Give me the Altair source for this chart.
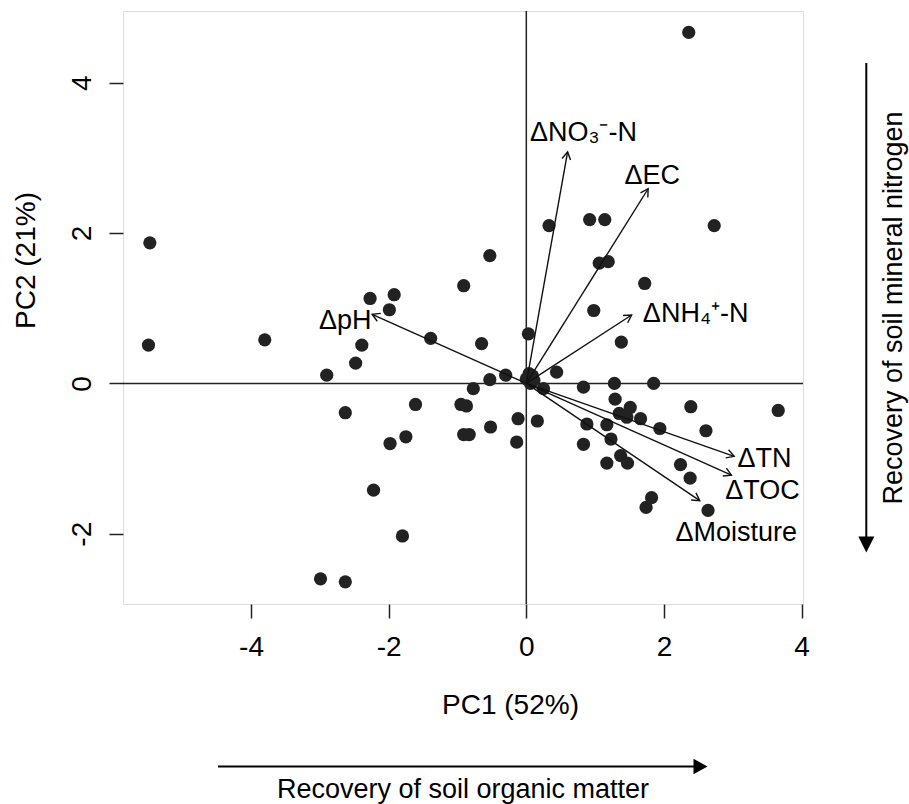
import math
import altair as alt
import pandas as pd

# ---------------- data ----------------
pc1 = [-5.47, -0.53, -0.91, -2.27, -1.92, -1.99, 2.36, 0.33, 0.92, 1.14,
       2.73, 1.06, 1.19, 1.72, 0.98, -5.49, -3.80, -2.39, -2.48, -2.90,
       -1.39, -0.65, 0.03, -0.30, -0.53, -0.77, -1.61, -0.95, -0.87, -2.63,
       -0.12, 0.16, -0.52, -0.91, -0.83, -0.14, -1.75, -1.98, -2.22, -1.80,
       -2.99, -2.63, 1.38, 0.44, 0.25, 0.83, 1.28, 1.85, 1.29, 1.51,
       1.35, 1.46, 1.66, 2.39, 3.66, 1.94, 2.61, 0.88, 1.17, 1.23,
       0.83, 1.37, 1.47, 1.17, 2.24, 2.38, 1.82, 1.74, 2.64, 0.04,
       0.09, 0.06, 0.00, 0.11]
pc2 = [1.87, 1.70, 1.30, 1.13, 1.18, 0.98, 4.67, 2.10, 2.18, 2.18,
       2.10, 1.60, 1.62, 1.33, 0.97, 0.51, 0.58, 0.51, 0.27, 0.11,
       0.60, 0.53, 0.66, 0.11, 0.05, -0.07, -0.28, -0.28, -0.30, -0.39,
       -0.47, -0.50, -0.58, -0.68, -0.68, -0.78, -0.71, -0.80, -1.42, -2.03,
       -2.60, -2.64, 0.55, 0.15, -0.07, -0.05, 0.00, 0.00, -0.21, -0.32,
       -0.40, -0.45, -0.47, -0.31, -0.36, -0.60, -0.63, -0.54, -0.55, -0.74,
       -0.81, -0.96, -1.06, -1.06, -1.08, -1.26, -1.52, -1.65, -1.69, 0.13,
       0.10, 0.00, 0.06, 0.04]

var_names = ["ΔNO₃⁻-N", "ΔEC", "ΔNH₄⁺-N", "ΔpH", "ΔTN", "ΔTOC", "ΔMoisture"]
load_pc1 = [0.60, 1.77, 1.53, -2.24, 3.02, 2.98, 2.52]
load_pc2 = [3.08, 2.59, 0.91, 0.92, -0.97, -1.22, -1.56]
label_pc1 = [0.83, 1.83, 2.46, -2.63, 3.46, 3.43, 3.05]
label_pc2 = [3.335, 2.76, 0.93, 0.83, -1.00, -1.43, -1.99]

x_ticks = [-4, -2, 0, 2, 4]
y_ticks = [-2, 0, 2, 4]
x_domain = [-5.86, 4.02]
y_domain = [-2.935, 4.955]

x_title = "PC1 (52%)"
y_title = "PC2 (21%)"
bottom_text = "Recovery of soil organic matter"
right_text = "Recovery of soil mineral nitrogen"

# ---------------- layout ----------------
W, H = 680, 593
FONT = "Liberation Sans"
sx = W / (x_domain[1] - x_domain[0])
sy = H / (y_domain[1] - y_domain[0])

pts = pd.DataFrame({"pc1": pc1, "pc2": pc2})
load = pd.DataFrame({
    "name": var_names, "x0": 0.0, "y0": 0.0,
    "x": load_pc1, "y": load_pc2,
    "lx": label_pc1, "ly": label_pc2,
})
load["ang"] = [(math.degrees(math.atan2(a * sx, b * sy))) % 360
               for a, b in zip(load_pc1, load_pc2)]
zero = pd.DataFrame({"v": [0]})
one = pd.DataFrame({"k": [0]})

xs = alt.Scale(domain=x_domain, nice=False, zero=False)
ys = alt.Scale(domain=y_domain, nice=False, zero=False)

x_axis = alt.Axis(values=x_ticks, title=x_title, grid=False, domain=False,
                  tickSize=14, tickWidth=1.5, tickColor="#222",
                  labelFont=FONT, labelFontSize=28, labelColor="#000",
                  labelPadding=15, labelBaseline="top", labelAlign="center",
                  labelFlush=False, labelOverlap=False,
                  labelExpr="'' + datum.value",
                  titleFont=FONT, titleFontSize=28, titleFontWeight="normal",
                  titleColor="#000", titleX=387, titleY=109,
                  titleAlign="center", titleBaseline="alphabetic")
y_axis = alt.Axis(values=y_ticks, title=y_title, grid=False, domain=False,
                  tickSize=14, tickWidth=1.5, tickColor="#222",
                  labelFont=FONT, labelFontSize=28, labelColor="#000",
                  labelAngle=270, labelAlign="center", labelBaseline="alphabetic",
                  labelPadding=19, labelFlush=False, labelOverlap=False,
                  labelExpr="'' + datum.value",
                  titleFont=FONT, titleFontSize=28, titleFontWeight="normal",
                  titleColor="#000", titleAngle=270, titleX=-89, titleY=249,
                  titleAlign="center", titleBaseline="alphabetic")

points = alt.Chart(pts).mark_circle(size=175, color="#222222", opacity=1).encode(
    x=alt.X("pc1:Q", scale=xs, axis=x_axis),
    y=alt.Y("pc2:Q", scale=ys, axis=y_axis),
)

vline = alt.Chart(zero).mark_rule(color="#222", strokeWidth=1.5).encode(
    x=alt.X("v:Q", scale=xs))
hline = alt.Chart(zero).mark_rule(color="#222", strokeWidth=1.5).encode(
    y=alt.Y("v:Q", scale=ys))

shafts = alt.Chart(load).mark_rule(color="#111", strokeWidth=1.4).encode(
    x=alt.X("x0:Q", scale=xs), y=alt.Y("y0:Q", scale=ys),
    x2="x:Q", y2="y:Q")

heads = alt.Chart(load).mark_point(
    shape="M -0.5 0.866 L 0 0 L 0.5 0.866", filled=False, size=300,
    color="#111", strokeWidth=1.4, opacity=1).encode(
    x=alt.X("x:Q", scale=xs), y=alt.Y("y:Q", scale=ys),
    angle=alt.Angle("ang:Q", scale=None))

labels = alt.Chart(load).mark_text(
    font=FONT, fontSize=27, color="#000", align="center", baseline="middle").encode(
    x=alt.X("lx:Q", scale=xs), y=alt.Y("ly:Q", scale=ys), text="name:N")

# margin annotations (decorations outside the plot area)
b_line = alt.Chart(one).mark_rule(color="#000", strokeWidth=2).encode(
    x=alt.value(95), x2=alt.value(578), y=alt.value(755.5))
b_head = alt.Chart(one).mark_point(
    shape="M 0 0 L -1 -0.55 L -1 0.55 Z", filled=True, size=784,
    color="#000", opacity=1).encode(x=alt.value(584.5), y=alt.value(755.5))
b_text = alt.Chart(one).mark_text(
    font=FONT, fontSize=27, color="#000", align="center",
    baseline="alphabetic").encode(
    x=alt.value(340), y=alt.value(787), text=alt.value(bottom_text))

r_line = alt.Chart(one).mark_rule(color="#000", strokeWidth=2).encode(
    x=alt.value(743.3), y=alt.value(52), y2=alt.value(535))
r_head = alt.Chart(one).mark_point(
    shape="M 0 0 L -0.5 -1 L 0.5 -1 Z", filled=True, size=1024,
    color="#000", opacity=1).encode(x=alt.value(743.3), y=alt.value(541.5))
r_text = alt.Chart(one).mark_text(
    font=FONT, fontSize=27, color="#000", align="center",
    baseline="alphabetic", angle=270).encode(
    x=alt.value(779), y=alt.value(297), text=alt.value(right_text))

chart = alt.layer(
    vline, hline, points, shafts, heads, labels,
    b_line, b_head, b_text, r_line, r_head, r_text,
).properties(
    width=W, height=H,
    autosize=alt.AutoSizeParams(type="none"),
    padding={"left": 123, "top": 11, "right": 106, "bottom": 200},
).configure_view(
    stroke="#222", strokeWidth=2, fill="white"
).configure(background="white")

chart.save("out.html", embed_options={"renderer": "svg", "actions": False})
